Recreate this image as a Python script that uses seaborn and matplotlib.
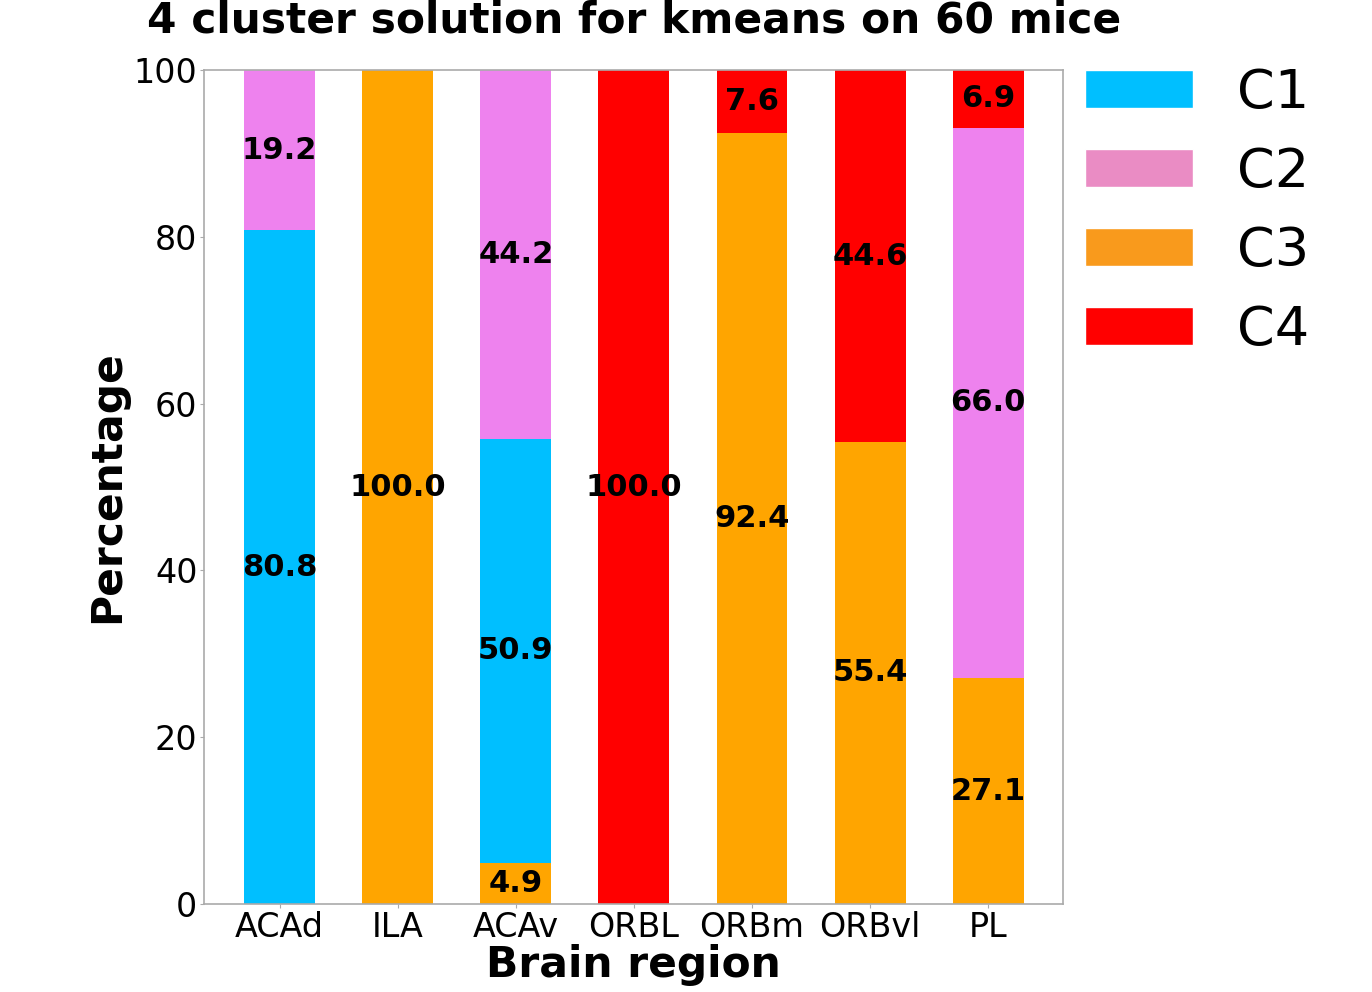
import pandas as pd
from matplotlib import pyplot as plt
from matplotlib.patches import Patch
import numpy as np
import seaborn as sns

regions = ["ACAd", "ILA", "ACAv", "ORBL", "ORBm", "ORBvl", "PL"]
clusters = ["C1", "C2", "C3", "C4"]
c1 = [80.8, 0.0, 50.9, 0.0, 0.0, 0.0, 0.0]
c2 = [19.2, 0.0, 44.2, 0.0, 0.0, 0.0, 66.0]
c3 = [0.0, 100.0, 4.9, 0.0, 92.4, 55.4, 27.1]
c4 = [0.0, 0.0, 0.0, 100.0, 7.6, 44.6, 6.9]

bar_colors = {"C1": "deepskyblue", "C2": "violet", "C3": "orange", "C4": "red"}
legend_colors = {"C1": "#00bfff", "C2": "#ea8cc4", "C3": "#f99a1c", "C4": "#ff0000"}

df = pd.DataFrame({"region": regions, "C1": c1, "C2": c2, "C3": c3, "C4": c4})

sns.set_style("white")
plt.rcParams["font.family"] = ["DejaVu Sans"]
plt.rcParams["text.color"] = "black"
plt.rcParams["axes.labelcolor"] = "black"
plt.rcParams["xtick.labelcolor"] = "black"
plt.rcParams["ytick.labelcolor"] = "black"

fig = plt.figure(figsize=(13.72, 9.92), dpi=100)
ax = fig.add_axes([0.149, 0.0887, 0.626, 0.8407])

# stacking order as in the original: C3 at the bottom, then C1, C2, C4
bottom = np.zeros(len(regions))
for c in ["C3", "C1", "C2", "C4"]:
    sns.barplot(data=df, x="region", y=c, color=bar_colors[c], width=0.6,
                bottom=bottom, ax=ax, saturation=1, linewidth=0)
    for i, v in enumerate(df[c]):
        if v > 0:
            ax.text(i, bottom[i] + v / 2, f"{v:.1f}", ha="center", va="center",
                    fontsize=22, fontweight="bold", color="black")
    bottom = bottom + df[c].values

ax.set_xlim(-0.636, 6.636)
ax.set_ylim(0, 100)
ax.set_yticks([0, 20, 40, 60, 80, 100])
ax.set_xlabel("Brain region", fontsize=30.5, fontweight="bold", labelpad=0)
ax.set_ylabel("Percentage", fontsize=30.5, fontweight="bold", labelpad=4)
ax.tick_params(axis="both", labelsize=24, length=3, color="#aaaaaa", pad=2)
ax.tick_params(axis="x", bottom=True)
ax.tick_params(axis="y", left=True)
for s in ax.spines.values():
    s.set_color("#aaaaaa")
    s.set_linewidth(1.2)

ax.set_title("4 cluster solution for kmeans on 60 mice", fontsize=30.5,
             fontweight="bold", pad=27)

handles = [Patch(facecolor=legend_colors[c], label=c) for c in clusters]
ax.legend(handles=handles, loc="upper left", bbox_to_anchor=(1.0, 1.03),
          frameon=False, fontsize=39, borderaxespad=0)

fig.savefig("out.png", dpi=100)
